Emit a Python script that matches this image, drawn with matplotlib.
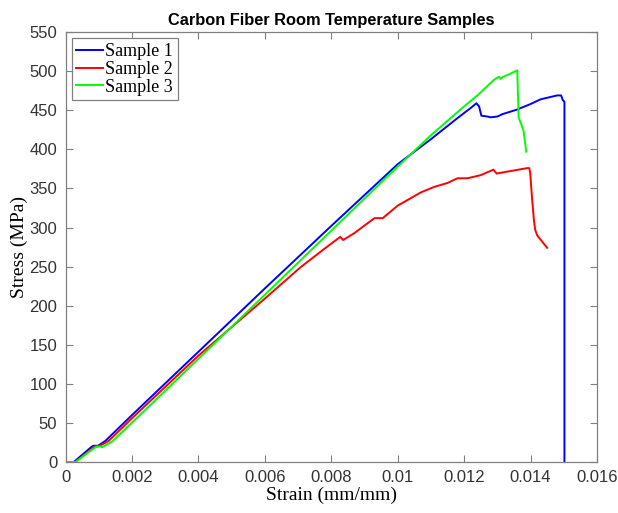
import matplotlib.pyplot as plt
from matplotlib.ticker import MultipleLocator, FuncFormatter

# Sample 1 (blue)
strain1 = [0, 0.00025, 0.0008, 0.00088, 0.00095, 0.0012, 0.002, 0.004, 0.006,
           0.008, 0.010, 0.011, 0.0118, 0.0122, 0.01237, 0.01245, 0.01252,
           0.0127, 0.0128, 0.0130, 0.01315, 0.0136, 0.0140, 0.0143, 0.0146,
           0.0148, 0.01492, 0.01497, 0.01502, 0.01502]
stress1 = [0, 0, 20, 21, 20, 27, 60, 141, 222, 302, 381, 413, 440, 453, 459,
           455, 443, 442, 441, 442, 445, 451, 458, 464, 467, 469, 469, 463,
           461, 0]

# Sample 2 (red)
strain2 = [0, 0.0003, 0.00085, 0.00095, 0.001, 0.0013, 0.002, 0.004, 0.006,
           0.00707, 0.0078, 0.00827, 0.00836, 0.0087, 0.0093, 0.00955, 0.0100,
           0.0107, 0.0111, 0.0115, 0.0118, 0.0121, 0.0125, 0.01288, 0.01298,
           0.0131, 0.0135, 0.0139, 0.01396, 0.01399, 0.01404, 0.0141, 0.01414,
           0.0142, 0.0145]
stress2 = [0, 0, 19, 21, 20, 27, 56, 136, 209, 249, 273, 288, 284, 293, 312,
           312, 328, 345, 352, 357, 363, 363, 367, 374, 369, 370, 373, 376,
           376, 370, 340, 310, 297, 290, 274]

# Sample 3 (green)
strain3 = [0, 0.0003, 0.0009, 0.00104, 0.0011, 0.0014, 0.00224, 0.004, 0.006,
           0.008, 0.010, 0.011, 0.012, 0.0124, 0.0129, 0.01305, 0.0131,
           0.01318, 0.0133, 0.0136, 0.01364, 0.01379, 0.01387]
stress3 = [0, 0, 19, 20, 19, 26, 60, 132, 214, 296, 378, 418, 455, 469, 489,
           493, 490, 493, 495, 501, 441, 424, 397]

labels = ["Sample 1", "Sample 2", "Sample 3"]
colors = ["#0000ff", "#ff0000", "#00ff00"]

fig = plt.figure(figsize=(6.18, 5.13), dpi=100)
ax = fig.add_axes([0.106, 0.0994, 0.860, 0.838])

for x, y, lab, c in zip([strain1, strain2, strain3], [stress1, stress2, stress3], labels, colors):
    ax.plot(x, y, color=c, linewidth=1.4, label=lab)

ax.set_xlim(0, 0.016)
ax.set_ylim(0, 550)
ax.xaxis.set_major_locator(MultipleLocator(0.002))
ax.yaxis.set_major_locator(MultipleLocator(50))
ax.xaxis.set_major_formatter(FuncFormatter(lambda v, p: "%g" % round(v, 4)))

gray = "#808080"
for s in ax.spines.values():
    s.set_color(gray)
    s.set_linewidth(0.9)
ax.tick_params(direction="in", top=True, right=True, length=5, width=0.8,
               color=gray, labelcolor="#333333", labelsize=12, pad=6)
for t in ax.get_xticklabels() + ax.get_yticklabels():
    t.set_family("Liberation Sans")

ax.set_title("Carbon Fiber Room Temperature Samples", fontsize=11.8,
             fontweight="bold", family="Liberation Sans", pad=5)
ax.set_xlabel("Strain (mm/mm)", fontsize=14, family="Liberation Serif", labelpad=1)
ax.set_ylabel("Stress (MPa)", fontsize=14, family="Liberation Serif", labelpad=1)

leg = ax.legend(loc="upper left", prop={"family": "Liberation Serif", "size": 13},
                fancybox=False, framealpha=1, edgecolor=gray, handlelength=1.5,
                handletextpad=0.1, borderpad=0.25, labelspacing=0.05,
                borderaxespad=0.35)
leg.get_frame().set_linewidth(0.9)

fig.savefig("out.png", dpi=100)
